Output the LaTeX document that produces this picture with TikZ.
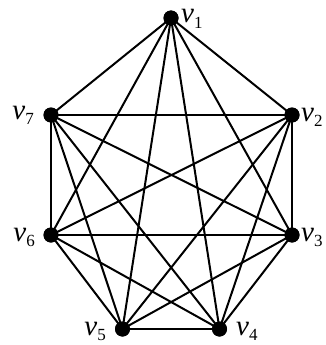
\documentclass[tikz,border=0pt]{standalone}
\usepackage{fontspec}
\setmainfont{Liberation Serif}
\newcommand\vlab[1]{\textit{v}\raisebox{-0.2em}{\fontsize{17}{17}\selectfont #1}}
\begin{document}
\begin{tikzpicture}[x=1pt,y=-1pt,
  vtx/.style={circle,fill=black,inner sep=0pt,minimum size=15pt},
  edge/.style={line width=2pt},
  lab/.style={inner sep=0pt,font=\fontsize{29}{29}\selectfont}]
\useasboundingbox (0,0) rectangle (325,345);
\node[vtx] (v1) at (171,18) {};
\node[vtx] (v2) at (292,115) {};
\node[vtx] (v3) at (292,235) {};
\node[vtx] (v4) at (219.5,329) {};
\node[vtx] (v5) at (122.5,329) {};
\node[vtx] (v6) at (51,235) {};
\node[vtx] (v7) at (51,115) {};
\foreach \a/\b in {v1/v2,v1/v3,v1/v4,v1/v5,v1/v6,v1/v7,
                   v2/v3,v2/v4,v2/v5,v2/v6,v2/v7,
                   v3/v4,v3/v5,v3/v6,v3/v7,
                   v4/v5,v4/v6,v4/v7,
                   v5/v6,v5/v7,
                   v6/v7}
  \draw[edge] (\a.center) -- (\b.center);
\foreach \v in {v1,v2,v3,v4,v5,v6,v7}
  \node[vtx] at (\v) {};
\node[lab,anchor=base west] (l1) at (181,23) {\vlab{1}};
\node[lab,anchor=base west] (l2) at (301,121) {\vlab{2}};
\node[lab,anchor=base west] (l3) at (301,241) {\vlab{3}};
\node[lab,anchor=base west] (l4) at (236,335) {\vlab{4}};
\node[lab,anchor=base east] (l5) at (106,335) {\vlab{5}};
\node[lab,anchor=base east] (l6) at (35,241) {\vlab{6}};
\node[lab,anchor=base east] (l7) at (34,119) {\vlab{7}};
\end{tikzpicture}
\end{document}
